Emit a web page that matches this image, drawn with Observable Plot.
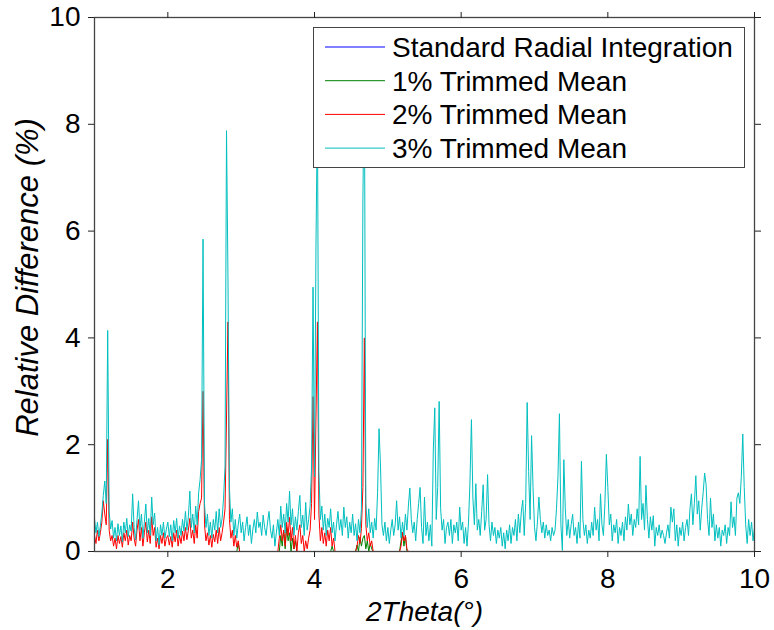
<!DOCTYPE html>
<html><head><meta charset="utf-8">
<script src="https://cdn.jsdelivr.net/npm/d3@7"></script>
<script src="https://cdn.jsdelivr.net/npm/@observablehq/plot@0.6"></script>
<style>
body{margin:0;background:#fff;}
#wrap{position:relative;width:774px;height:630px;}
#legend{position:absolute;left:313px;top:27px;width:432px;height:141px;box-sizing:border-box;border:1.3px solid #444;background:#fff;}
#legend svg{display:block;}
</style>
</head><body><div id="wrap"></div>
<script>
// x grid of the sampled traces (2Theta, degrees)
const xStart = 1.0;
const xStep = 0.02;

// 3% trimmed mean (cyan), 1.00 .. 10.00
const trimmed3 = [
0.62,0.35,0.55,0.28,0.48,0.72,1.05,1.32,0.9,4.14,0.75,0.42,0.58,0.25,0.45,0.2,0.52,0.3,0.48,0.18,0.55,0.35,0.62,0.28,0.5,
0.38,1.08,0.45,0.22,0.6,0.95,0.4,0.7,0.25,0.55,0.89,0.35,0.62,0.3,1.02,0.5,0.72,0.2,0.45,0.12,0.5,0.3,0.55,0.25,0.42,
0.55,0.28,0.5,0.2,0.58,0.35,0.62,0.25,0.48,0.3,0.6,0.38,0.75,0.4,0.65,1.13,0.45,0.7,0.35,0.85,0.5,1.1,1.35,1.72,5.85,
0.9,0.45,0.7,0.3,0.55,0.25,0.6,0.4,0.75,0.35,0.8,0.45,0.62,1.0,1.6,7.88,5.14,1.2,0.55,0.8,0.3,0.6,0.25,0.5,0.7,
0.35,0.55,0.2,0.45,0.65,0.3,0.5,0.15,0.42,0.6,0.35,0.74,0.45,0.55,0.3,0.68,0.45,0.3,0.55,0.75,0.4,0.25,0.5,0.1,0.35,
0.6,0.3,0.85,0.45,0.7,0.35,0.9,0.55,1.13,0.5,0.8,0.3,0.65,0.4,0.75,1.05,0.45,0.68,0.3,0.92,0.4,0.6,0.85,1.6,4.95,
1.4,5.7,8.3,1.5,0.6,0.85,0.4,0.7,0.3,0.62,0.45,0.8,0.35,0.55,0.2,0.5,0.75,0.4,0.6,0.3,0.83,0.45,0.65,0.25,0.55,
0.35,0.7,0.3,0.52,0.2,0.6,0.35,0.8,6.6,9.0,0.9,0.45,0.8,0.35,0.55,0.25,0.62,0.4,1.1,2.3,1.6,0.5,0.3,0.55,0.2,
0.45,0.15,0.4,0.6,0.3,0.5,0.95,0.4,0.65,0.25,0.55,0.3,0.7,0.4,0.85,1.19,0.6,0.35,0.55,0.2,0.6,0.9,1.2,0.45,0.15,
1.02,0.3,0.55,0.2,0.5,0.1,1.9,2.69,0.6,1.2,2.81,0.8,0.4,0.6,0.15,0.45,0.55,0.3,0.6,0.15,0.5,0.35,0.55,0.2,0.83,
0.4,0.55,0.15,0.45,0.1,0.55,1.3,2.47,1.0,0.5,1.27,0.4,0.6,0.3,0.75,1.25,0.4,0.6,1.44,0.5,0.2,0.55,0.3,0.45,0.15,
0.4,0.25,0.45,0.1,0.35,0.05,0.4,0.2,0.5,0.15,0.45,0.3,0.6,0.2,0.7,0.35,0.74,0.96,0.3,0.9,2.79,1.5,0.6,2.17,1.2,
0.45,0.2,0.55,1.02,0.6,0.35,0.55,0.25,0.5,0.3,0.4,0.2,0.45,0.3,0.4,0.8,1.4,2.58,0.5,0.02,1.72,0.8,0.3,0.6,0.25,
0.5,0.7,0.3,0.45,0.15,0.55,0.25,1.69,0.6,0.3,0.5,0.15,0.4,0.25,0.55,0.3,0.83,0.4,0.6,0.2,1.08,0.5,0.3,0.9,1.82,
1.2,0.5,0.7,0.2,0.5,0.35,0.6,0.15,0.45,0.3,0.55,0.2,0.65,0.4,0.89,0.5,0.7,0.3,0.6,0.45,0.8,0.5,1.78,0.6,0.9,
0.4,1.24,0.6,0.25,0.65,0.4,0.67,0.1,0.45,0.3,0.5,0.25,0.4,0.3,0.15,0.35,0.5,0.25,0.83,0.55,0.8,0.2,0.5,0.1,0.45,
0.3,0.55,0.2,0.45,0.6,0.3,0.8,1.08,0.5,0.9,1.42,0.7,0.95,0.4,0.8,1.1,1.47,1.25,0.6,0.3,1.0,0.45,0.7,0.2,0.5,
0.25,0.45,0.1,0.4,0.3,0.5,0.15,0.45,0.3,0.93,0.45,0.65,0.3,1.0,1.1,0.9,1.4,2.2,1.2,0.5,0.15,0.6,0.3,0.55,0.2,
0.45
];

// 2% trimmed mean (red), 1.00 .. 5.30
const trimmed2 = [
0.3,0.15,0.4,0.2,0.35,0.55,0.95,0.7,0.5,2.1,0.4,0.2,0.3,0.1,0.25,0.05,0.3,0.15,0.28,0.08,0.35,0.2,0.4,0.12,0.3,
0.2,0.55,0.25,0.1,0.4,0.6,0.2,0.45,0.1,0.35,0.55,0.18,0.4,0.15,0.65,0.3,0.45,0.08,0.25,0.05,0.3,0.15,0.35,0.1,0.25,
0.3,0.12,0.28,0.08,0.35,0.18,0.4,0.1,0.3,0.15,0.38,0.2,0.45,0.22,0.4,0.62,0.25,0.4,0.15,0.5,0.25,0.75,0.9,1.0,3.0,
0.5,0.2,0.35,0.12,0.3,0.08,0.32,0.18,0.4,0.15,0.45,0.2,0.35,0.55,0.8,2.5,4.3,0.6,0.25,0.4,0.1,0.3,0.08,0.2,0,
0,0,0,0,0,0,0,0,0,0,0,0,0,0,0,0,0,0,0,0,0,0,0,0,0,
0,0.25,0.5,0.2,0.4,0.1,0.55,0.3,0.64,0.2,0.45,0.05,0.3,0,0.35,0.5,0.15,0.3,0,0.2,0.05,0.25,0.4,0.9,2.9,
0.6,2.5,4.3,0.7,0.2,0.45,0.15,0.35,0.1,0.4,0.2,0.45,0.1,0.25,0,0,0,0,0,0,0,0,0,0,0,
0,0,0,0,0.1,0.3,0.15,0.43,1.2,4.0,0.5,0.2,0.35,0.1,0.2,0,0,0,0,0,0,0,0,0,0,
0,0,0,0,0,0,0,0,0,0.1,0.36,0.2,0.3,0.05,0,0
];

// 1% trimmed mean (green), sparse samples
const trimmed1X = [1.00,2.94,2.96,2.98,3.52,3.54,3.56,3.58,3.60,3.62,3.64,3.66,3.68,3.70,3.72,3.74,3.76,4.22,4.24,4.26,4.56,4.58,4.60,4.62,4.64,4.66,4.68,4.70,4.72,4.74,4.76,4.78,4.80,5.16,5.18,5.20,5.22,5.24,5.26,5.30];
const trimmed1Y = [0,0,0.15,0,0,0.3,0.1,0.4,0.05,0.45,0.2,0.35,0,0.25,0.05,0.2,0,0,0.1,0,0,0.12,0,0.27,0.1,0.25,0.3,0.05,0.2,0,0.15,0.05,0,0,0.2,0.34,0.1,0.3,0,0];

// Standard radial integration (blue), reference level
const standardX = [1, 10];
const standardY = [0, 0];

const seriesNames = ["Standard Radial Integration", "1% Trimmed Mean", "2% Trimmed Mean", "3% Trimmed Mean"];
const seriesColors = ["#0000ff", "#008000", "#ff0000", "#00bfbf"];
const xTicks = [2, 4, 6, 8, 10];
const yTicks = [0, 2, 4, 6, 8, 10];
const xLabel = "2Theta(°)";
const yLabel = "Relative Difference (%)";

const gridX = (d, i) => xStart + i * xStep;
const FONT = "'Liberation Sans', Arial, Helvetica, sans-serif";

const chart = Plot.plot({
  width: 774, height: 630,
  marginLeft: 94, marginRight: 20, marginTop: 17, marginBottom: 79,
  x: {domain: [1, 10]},
  y: {domain: [0, 10]},
  style: {fontFamily: FONT, fontSize: "28px", background: "white", color: "black"},
  marks: [
    Plot.line(standardY, {x: (d, i) => standardX[i], y: d => d, stroke: seriesColors[0], strokeWidth: 1, clip: true}),
    Plot.line(trimmed1Y, {x: (d, i) => trimmed1X[i], y: d => d, stroke: seriesColors[1], strokeWidth: 1, clip: true}),
    Plot.line(trimmed2, {x: gridX, y: d => d, stroke: seriesColors[2], strokeWidth: 1, clip: true}),
    Plot.line(trimmed3, {x: gridX, y: d => d, stroke: seriesColors[3], strokeWidth: 1, clip: true}),
    Plot.frame({stroke: "#444", strokeWidth: 1.3}),
    Plot.axisX(xTicks, {anchor: "bottom", tickSize: 6, tickPadding: 11, tickFormat: d => String(d), label: null, stroke: "#222"}),
    Plot.axisX(xTicks, {anchor: "top", tickSize: 6, tickFormat: () => "", label: null, stroke: "#222"}),
    Plot.axisY(yTicks, {anchor: "left", tickSize: 6, tickPadding: 8, tickFormat: d => String(d), label: null, stroke: "#222"}),
    Plot.axisY(yTicks, {anchor: "right", tickSize: 6, tickFormat: () => "", label: null, stroke: "#222"}),
    Plot.text([xLabel], {frameAnchor: "bottom", dy: 69, lineAnchor: "bottom", textAnchor: "middle", fontStyle: "italic", text: d => d, fill: "black"}),
    Plot.text([yLabel], {frameAnchor: "left", dx: -66, dy: -7, rotate: -90, textAnchor: "middle", lineAnchor: "middle", fontStyle: "italic", fontSize: 31, text: d => d, fill: "black"})
  ]
});

const wrap = document.getElementById("wrap");
wrap.appendChild(chart);

// legend box
const legend = document.createElement("div");
legend.id = "legend";
const ns = "http://www.w3.org/2000/svg";
const lsvg = document.createElementNS(ns, "svg");
lsvg.setAttribute("width", 430);
lsvg.setAttribute("height", 139);
seriesNames.forEach((name, i) => {
  const cy = 19 + i * 33.7;
  const ln = document.createElementNS(ns, "line");
  ln.setAttribute("x1", 11); ln.setAttribute("x2", 71);
  ln.setAttribute("y1", cy); ln.setAttribute("y2", cy);
  ln.setAttribute("stroke", seriesColors[i]); ln.setAttribute("stroke-width", 1);
  lsvg.appendChild(ln);
  const t = document.createElementNS(ns, "text");
  t.setAttribute("x", 78); t.setAttribute("y", cy + 10);
  t.setAttribute("font-family", FONT); t.setAttribute("font-size", 28);
  t.setAttribute("fill", "black");
  t.textContent = name;
  lsvg.appendChild(t);
});
legend.appendChild(lsvg);
wrap.appendChild(legend);
</script></body></html>
